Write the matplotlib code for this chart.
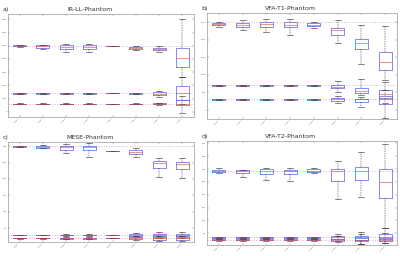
import matplotlib
matplotlib.use('Agg')
import matplotlib.pyplot as plt
import numpy as np

plt.rcParams.update({'font.size': 4, 'font.family': 'DejaVu Sans'})

# x labels (rotated, tiny in the original)
sites = ['Site 1', 'Site 2', 'Site 3', 'Site 4', 'Site 5', 'Site 6', 'Site 7', 'Site 8']

# each entry: (whisker low, q1, median, q3, whisker high)
irll_high = [(2470, 2488, 2500, 2510, 2525), (2364, 2430, 2480, 2520, 2540),
             (2273, 2386, 2450, 2526, 2553), (2273, 2386, 2450, 2526, 2553),
             (2500, 2500, 2500, 2500, 2500), (2337, 2364, 2400, 2439, 2475),
             (2273, 2326, 2380, 2424, 2489), (1330, 1705, 2023, 2401, 3500)]
irll_mid = [(675, 688, 700, 712, 725), (675, 688, 700, 712, 725),
            (675, 688, 700, 712, 725), (675, 688, 700, 712, 725),
            (700, 700, 700, 700, 700), (660, 680, 695, 710, 725),
            (568, 633, 690, 735, 795), (300, 443, 700, 970, 1330)]
irll_low = [(285, 292, 300, 308, 315), (285, 292, 300, 308, 315),
            (285, 292, 300, 308, 315), (285, 292, 300, 308, 315),
            (300, 300, 300, 300, 300), (280, 290, 300, 310, 320),
            (270, 285, 300, 312, 325), (-60, 254, 300, 443, 600)]
irll_ref = [2500, 700, 300]

vfat1_high = [(2366, 2406, 2443, 2480, 2500), (2273, 2367, 2424, 2480, 2557),
              (2216, 2366, 2443, 2500, 2576), (2140, 2348, 2424, 2500, 2576),
              (2330, 2386, 2430, 2462, 2500), (1894, 2140, 2273, 2320, 2557),
              (1307, 1723, 1913, 2017, 2424), (850, 1127, 1364, 1638, 2386)]
vfat1_mid = [(680, 690, 700, 710, 720), (680, 690, 700, 710, 720),
             (680, 690, 700, 710, 720), (680, 690, 700, 710, 720),
             (680, 690, 700, 710, 720), (520, 616, 663, 710, 824),
             (420, 474, 550, 634, 890), (200, 330, 450, 570, 800)]
vfat1_low = [(285, 292, 300, 308, 315), (285, 292, 300, 308, 315),
             (285, 292, 300, 308, 315), (285, 292, 300, 308, 315),
             (285, 292, 300, 308, 315), (207, 264, 300, 332, 398),
             (94, 227, 300, 321, 370), (-230, 170, 300, 400, 560)]
vfat1_ref = [2500, 700, 300]

mese_high = [(296, 298, 299, 300, 301), (293, 295, 298, 300, 302),
             (279, 289, 297, 301, 305), (268, 287, 296, 300, 309),
             (284, 284, 284, 284, 284), (268, 276, 283, 289, 293),
             (207, 234, 248, 256, 264), (203, 231, 244, 253, 263)]
mese_mid = [(29, 29.5, 30, 30.5, 31), (29, 29.5, 30, 30.5, 31),
            (27, 29, 30, 31, 33), (27, 29, 30, 31, 33),
            (30, 30, 30, 30, 30), (24, 27, 30, 33, 36),
            (20, 26, 30, 34, 40), (20, 26, 30, 34, 40)]
mese_low = [(19, 19.5, 20, 20.5, 21), (19, 19.5, 20, 20.5, 21),
            (17, 19, 20, 21, 23), (17, 19, 20, 21, 23),
            (20, 20, 20, 20, 20), (14, 17, 20, 23, 26),
            (12, 16, 20, 24, 28), (12, 16, 20, 24, 28)]
mese_ref = [300, 30, 20]

vfat2_high = [(283, 290, 293, 297, 303), (270, 286, 291, 297, 297),
              (258, 281, 293, 299, 303), (255, 281, 291, 296, 304),
              (283, 290, 294, 299, 303), (182, 255, 291, 301, 330),
              (190, 259, 293, 308, 366), (70, 186, 250, 299, 397)]
vfat2_mid = [(31, 32.5, 34, 35.5, 37), (31, 32.5, 34, 35.5, 37),
             (31, 32.5, 34, 35.5, 37), (31, 32.5, 34, 35.5, 37),
             (31, 32.5, 34, 35.5, 37), (21, 28, 34, 38, 47),
             (8, 25, 34, 40, 55), (12, 28, 36, 47, 70)]
vfat2_low = [(21, 22.5, 24, 25.5, 27), (21, 22.5, 24, 25.5, 27),
             (21, 22.5, 24, 25.5, 27), (21, 22.5, 24, 25.5, 27),
             (21, 22.5, 24, 25.5, 27), (15, 21, 24, 28, 38),
             (8, 19, 24, 30, 45), (12, 20, 24, 30, 50)]
vfat2_ref = [293, 34, 24]


def to_stats(group):
    return [dict(whislo=g[0], q1=g[1], med=g[2], q3=g[3], whishi=g[4], fliers=[])
            for g in group]


def panel(ax, groups, refs, title, letter, ylim, yticks):
    pos = np.arange(1, len(sites) + 1)
    for r in refs:
        ax.axhline(r, color='#d0b8c8', ls=':', lw=0.7, zorder=0)
    for g in groups:
        ax.bxp(to_stats(g), positions=pos, widths=0.55, capwidths=0.25,
               showfliers=False,
               boxprops=dict(color='#6a6ae6', lw=0.55),
               medianprops=dict(color='#e04040', lw=0.4),
               whiskerprops=dict(color='#222222', lw=0.35, ls=(0, (3, 2))),
               capprops=dict(color='#222222', lw=0.4))
    ax.set_xlim(0.5, len(sites) + 0.5)
    ax.set_ylim(*ylim)
    ax.set_yticks(yticks)
    ax.set_xticks(pos)
    ax.set_xticklabels(sites, rotation=45, ha='right', fontsize=1.5, color='#666666')
    ax.tick_params(axis='y', labelsize=1.6, labelcolor='#666666')
    ax.tick_params(direction='in', length=1.2, width=0.3, color='#777777',
                   top=True, right=True, pad=0.8)
    for s in ax.spines.values():
        s.set_linewidth(0.5)
        s.set_color('#999999')
    ax.text(0.44, 1.02, title, transform=ax.transAxes, ha='center', va='bottom',
            fontsize=4.5, color='#333333')
    ax.text(-0.03, 1.02, letter, transform=ax.transAxes, ha='left', va='bottom',
            fontsize=4.5, color='#333333')


fig = plt.figure(figsize=(4.0, 2.56), dpi=100)
ax1 = fig.add_axes([0.02, 0.543, 0.465, 0.402])
ax2 = fig.add_axes([0.5175, 0.535, 0.475, 0.413])
ax3 = fig.add_axes([0.02, 0.055, 0.465, 0.39])
ax4 = fig.add_axes([0.5175, 0.044, 0.475, 0.406])

panel(ax1, [irll_high, irll_mid, irll_low], irll_ref, 'IR-LL-Phantom', 'a)',
      (-200, 3700), np.arange(0, 3501, 500))
panel(ax2, [vfat1_high, vfat1_mid, vfat1_low], vfat1_ref, 'VFA-T1-Phantom', 'b)',
      (-256, 2750), np.arange(0, 2501, 500))
panel(ax3, [mese_high, mese_mid, mese_low], mese_ref, 'MESE-Phantom', 'c)',
      (9, 312), np.arange(50, 301, 50))
panel(ax4, [vfat2_high, vfat2_mid, vfat2_low], vfat2_ref, 'VFA-T2-Phantom', 'd)',
      (5, 410), np.arange(50, 401, 50))

fig.savefig('out.png', dpi=100)
